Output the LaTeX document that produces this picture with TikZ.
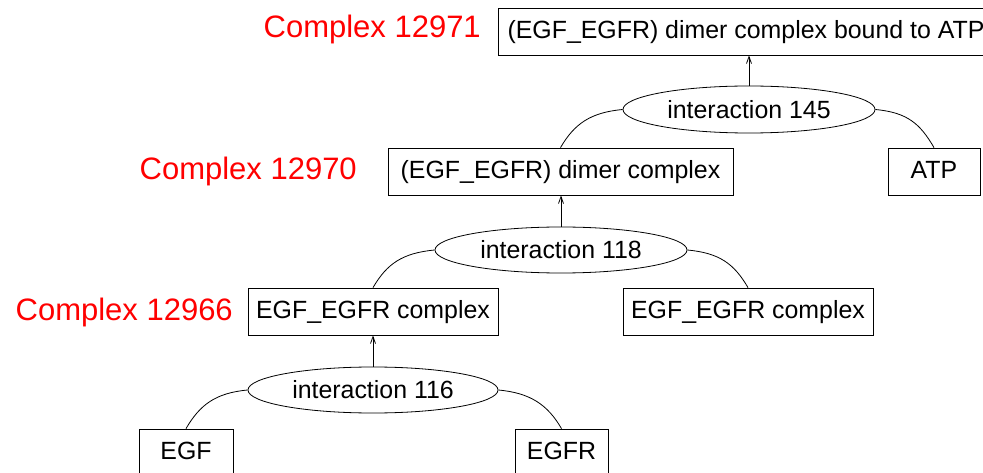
\documentclass[tikz,border=0pt]{standalone}
\usepackage{fontspec}
\setmainfont{Liberation Sans}
\usetikzlibrary{shapes.geometric,arrows.meta}

\begin{document}
\begin{tikzpicture}[x=1pt,y=-1pt,
  every node/.style={font=\fontsize{24.9}{28}\selectfont, inner sep=0pt},
  entity/.style={draw, line width=0.8pt, rectangle, minimum height=47pt,
    text height=17pt, text depth=3pt},
  reaction/.style={draw, line width=0.8pt, ellipse, minimum height=46pt},
  cxlabel/.style={anchor=base east, text=red, font=\fontsize{31}{34}\selectfont},
  product/.style={line width=0.8pt, -{Straight Barb[length=7pt,width=5pt]}},
  reactant/.style={line width=0.8pt}]
\useasboundingbox (0,0) rectangle (983,473);

% complexes and species
\node[entity, minimum width=496pt] (top) at (746,31.5) {(EGF\_EGFR) dimer complex bound to ATP};
\node[entity, minimum width=345pt] (dimer) at (560.5,171.5) {(EGF\_EGFR) dimer complex};
\node[entity, minimum width=92pt] (atp) at (934,171.5) {ATP};
\node[entity, minimum width=250pt] (eea) at (373,311.5) {EGF\_EGFR complex};
\node[entity, minimum width=250pt] (eeb) at (748,311.5) {EGF\_EGFR complex};
\node[entity, minimum width=94pt] (egf) at (186,452.5) {EGF};
\node[entity, minimum width=93pt] (egfr) at (561.5,452.5) {EGFR};

% interactions
\node[reaction, minimum width=252pt, minimum height=47pt] (i145) at (749,109.5) {interaction 145};
\node[reaction, minimum width=252pt] (i118) at (561,250) {interaction 118};
\node[reaction, minimum width=250pt] (i116) at (373,390) {interaction 116};

% complex labels
\node[cxlabel] (l12971) at (481,38) {Complex 12971};
\node[cxlabel] (l12970) at (357,180) {Complex 12970};
\node[cxlabel] (l12966) at (233,320) {Complex 12966};

% products
\draw[product] (i145.north) -- (i145.north |- top.south);
\draw[product] (i118.north) -- (i118.north |- dimer.south);
\draw[product] (i116.north) -- (i116.north |- eea.south);

% reactants
\draw[reactant] (i145.west) .. controls +(-32,3) and +(14,-24) .. (dimer.north);
\draw[reactant] (i145.east) .. controls +(32,3) and +(-14,-24) .. (atp.north);
\draw[reactant] (i118.west) .. controls +(-32,3) and +(14,-24) .. (eea.north);
\draw[reactant] (i118.east) .. controls +(32,3) and +(-14,-24) .. (eeb.north);
\draw[reactant] (i116.west) .. controls +(-32,3) and +(14,-24) .. (egf.north);
\draw[reactant] (i116.east) .. controls +(32,3) and +(-14,-24) .. (egfr.north);
\end{tikzpicture}
\end{document}
